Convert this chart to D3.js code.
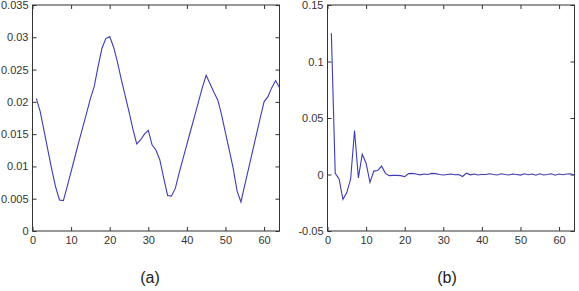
<!DOCTYPE html>
<html><head><meta charset="utf-8">
<script src="https://cdn.jsdelivr.net/npm/d3@7"></script>
<style>body{margin:0;background:#fff}svg{display:block}text{font-family:"Liberation Sans",Arial,sans-serif}</style>
</head><body><svg id="c" width="579" height="291"></svg>
<script>
const xValues = d3.range(1, 65);
const seriesA = [0.0205,0.0185,0.0155,0.0125,0.0095,0.0068,0.0048,0.0047,0.0069,0.0092,0.0115,0.0138,0.0160,0.0182,0.0205,0.0224,0.0255,0.0283,0.0298,0.0301,0.0285,0.0262,0.0235,0.0210,0.0185,0.0158,0.0135,0.0141,0.0150,0.0156,0.0133,0.0125,0.0110,0.0082,0.0055,0.0054,0.0066,0.0090,0.0112,0.0134,0.0156,0.0178,0.0200,0.0222,0.0241,0.0228,0.0215,0.0203,0.0180,0.0152,0.0125,0.0097,0.0062,0.0045,0.0071,0.0097,0.0123,0.0149,0.0175,0.0200,0.0208,0.0222,0.0233,0.0222];
const seriesB = [0.125,0.001,-0.004,-0.022,-0.016,-0.004,0.039,-0.003,0.018,0.010,-0.007,0.003,0.0035,0.0075,0.001,-0.001,-0.0008,-0.0008,-0.001,-0.002,0.0008,0.001,0.0005,-0.0003,0.0004,0.0,0.001,0.0008,0.0,-0.0004,0.0,0.0004,-0.0002,0.0,-0.0018,0.0012,-0.0003,0.0004,-0.0004,0.0,0.0,0.0006,0.0,-0.0004,0.0006,0.0,-0.0004,0.0004,0.0,-0.0005,0.0006,-0.0002,0.0004,-0.0006,0.0006,-0.0004,0.0,0.0006,-0.0006,0.0004,-0.0002,0.0004,0.0006,-0.0006];
const xTicks = [0,10,20,30,40,50,60];
const yTicksA = [0,0.005,0.01,0.015,0.02,0.025,0.03,0.035];
const yTicksB = [-0.05,0,0.05,0.1,0.15];
const captions = ["(a)","(b)"];

const svg = d3.select("#c");
function panel(left, right, yDomain, yTicks, data, caption, capX){
  const top = 5, bottom = 231;
  const x = d3.scaleLinear().domain([0,64]).range([left,right]);
  const y = d3.scaleLinear().domain(yDomain).range([bottom,top]);
  const g = svg.append("g");
  const fmt = d => d === 0 ? "0" : String(+d.toFixed(3));
  const ax = (axis, tr) => {
    const a = g.append("g").attr("transform", tr).call(axis);
    a.select(".domain").remove();
    a.selectAll("line").attr("stroke","#333");
    a.selectAll("text").attr("fill","#333").style("font-size","11px");
    return a;
  };
  ax(d3.axisBottom(x).tickValues(xTicks).tickSize(-4).tickPadding(5).tickFormat(fmt), `translate(0,${bottom})`);
  ax(d3.axisTop(x).tickValues(xTicks).tickSize(-4).tickFormat(""), `translate(0,${top})`);
  ax(d3.axisLeft(y).tickValues(yTicks).tickSize(-4).tickPadding(4).tickFormat(fmt), `translate(${left},0)`);
  ax(d3.axisRight(y).tickValues(yTicks).tickSize(-4).tickFormat(""), `translate(${right},0)`);
  g.append("rect").attr("x",left).attr("y",top).attr("width",right-left).attr("height",bottom-top)
    .attr("fill","none").attr("stroke","#333").attr("stroke-width",1);
  const line = d3.line().x((d,i)=>x(xValues[i])).y(d=>y(d));
  g.append("path").datum(data).attr("d",line).attr("fill","none").attr("stroke","#3c3cb4").attr("stroke-width",1.1);
  svg.append("text").attr("x",capX).attr("y",283).attr("text-anchor","middle").attr("fill","#222")
    .style("font-size","16px").text(caption);
}
panel(32.5, 279.5, [0,0.035], yTicksA, seriesA, captions[0], 150);
panel(327.5, 574.5, [-0.05,0.15], yTicksB, seriesB, captions[1], 447);
</script></body></html>
